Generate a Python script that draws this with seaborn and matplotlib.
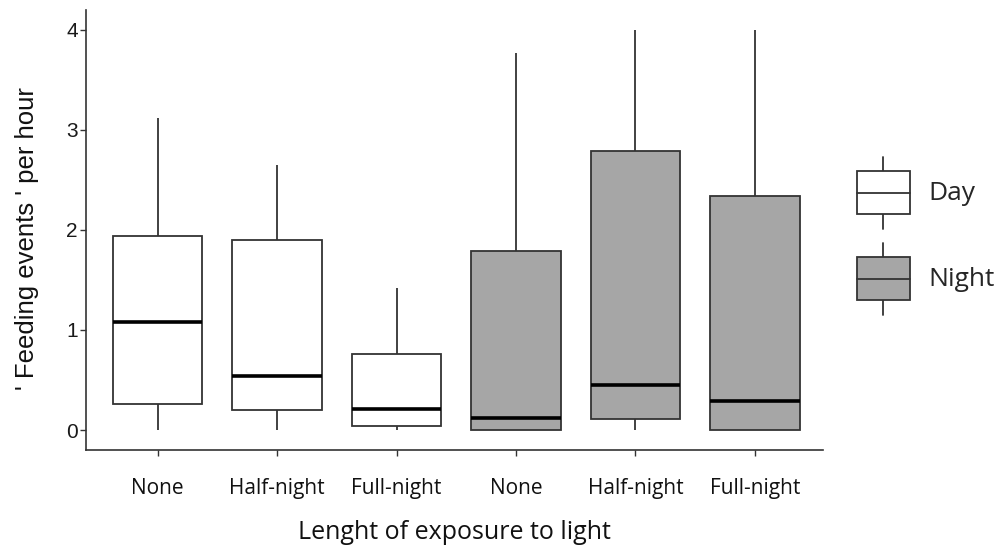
import numpy as np
import pandas as pd
import matplotlib
matplotlib.use("Agg")
import matplotlib.pyplot as plt
import seaborn as sns
from matplotlib.legend_handler import HandlerBase
from matplotlib.patches import Rectangle, Patch
from matplotlib.lines import Line2D

# ---- data -------------------------------------------------------------
exposure = ["None", "Half-night", "Full-night"]
periods = ["Day", "Night"]
# five-number summaries: low whisker, Q1, median, Q3, high whisker
day_none = [0.00, 0.26, 1.08, 1.94, 3.12]
day_half = [0.00, 0.20, 0.54, 1.90, 2.65]
day_full = [0.00, 0.04, 0.21, 0.76, 1.42]
night_none = [0.00, 0.00, 0.12, 1.79, 3.77]
night_half = [0.00, 0.11, 0.45, 2.79, 4.00]
night_full = [0.00, 0.00, 0.29, 2.34, 4.00]
yticks = [0, 1, 2, 3, 4]

summaries = {
    ("Day", "None"): day_none, ("Day", "Half-night"): day_half, ("Day", "Full-night"): day_full,
    ("Night", "None"): night_none, ("Night", "Half-night"): night_half, ("Night", "Full-night"): night_full,
}
rows = []
order = []
for p in periods:
    for e in exposure:
        key = f"{p} {e}"
        order.append(key)
        for v in summaries[(p, e)]:
            rows.append({"group": key, "period": p, "exposure": e, "value": v})
df = pd.DataFrame(rows)

# ---- style ------------------------------------------------------------
sns.set_style("ticks")
plt.rcParams["font.family"] = ["Open Sans", "DejaVu Sans"]

EDGE = "#333333"
GREY = "#a6a6a6"

fig = plt.figure(figsize=(10, 5.45), dpi=100)
ax = fig.add_axes([0.086, 0.1743, 0.823 - 0.086, 0.9817 - 0.1743])

sns.boxplot(data=df, x="group", y="value", hue="period", order=order,
            hue_order=periods, palette={"Day": "white", "Night": GREY},
            dodge=False, width=0.75, whis=np.inf, showcaps=False,
            linecolor=EDGE, linewidth=1.3, legend=False,
            medianprops={"color": "black", "linewidth": 2.6}, ax=ax)

ax.set_xlim(-0.6, 5.57)
ax.set_ylim(-0.2, 4.2)
ax.set_yticks(yticks)
ax.set_yticklabels([str(t) for t in yticks],
                   family=["Liberation Sans", "DejaVu Sans"],
                   fontsize=15, color="#1a1a1a")
ax.set_xticks(range(len(order)))
ax.set_xticklabels([e for p in periods for e in exposure], fontsize=15, color="#111111")
ax.tick_params(axis="x", length=4, width=1, color=EDGE, pad=16)
ax.tick_params(axis="y", length=4, width=1, color=EDGE, pad=2)

for s in ["top", "right"]:
    ax.spines[s].set_visible(False)
for s in ["left", "bottom"]:
    ax.spines[s].set_color(EDGE)
    ax.spines[s].set_linewidth(1.2)

ax.set_xlabel("Lenght of exposure to light", fontsize=18, color="#111111")
ax.xaxis.set_label_coords(0.5, -0.158)
ax.set_ylabel("' Feeding events ' per hour", fontsize=18.5,
              family=["Liberation Sans", "DejaVu Sans"], color="#111111")
ax.yaxis.set_label_coords(-0.064, 0.48)


# ---- legend -----------------------------------------------------------
class BoxHandler(HandlerBase):
    def __init__(self, face):
        super().__init__()
        self.face = face

    def create_artists(self, legend, orig_handle, xdescent, ydescent,
                       width, height, fontsize, trans):
        x0, y0 = -xdescent, -ydescent
        bh = height * 0.6
        by = y0 + (height - bh) / 2
        xm = x0 + width / 2
        rect = Rectangle((x0, by), width, bh, facecolor=self.face,
                         edgecolor=EDGE, lw=1.3, transform=trans)
        med = Line2D([x0, x0 + width], [by + bh / 2] * 2, color=EDGE, lw=1.3, transform=trans)
        wl = Line2D([xm, xm], [y0, by], color=EDGE, lw=1.3, transform=trans)
        wh = Line2D([xm, xm], [by + bh, y0 + height], color=EDGE, lw=1.3, transform=trans)
        return [wl, wh, rect, med]


h_day = Patch(facecolor="white")
h_night = Patch(facecolor=GREY)
fig.legend([h_day, h_night], periods,
           handler_map={h_day: BoxHandler("white"), h_night: BoxHandler(GREY)},
           loc="upper left", bbox_to_anchor=(0.857, 1 - 157 / 545),
           frameon=False, fontsize=19, borderpad=0, borderaxespad=0,
           handlelength=2.0, handleheight=3.8, labelspacing=0.55,
           handletextpad=0.72)

fig.savefig("out.png", dpi=100)
